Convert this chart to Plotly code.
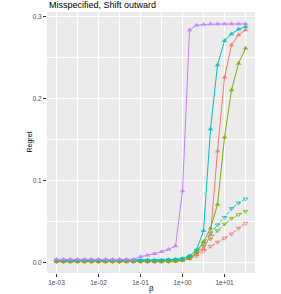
import numpy as np
import plotly.graph_objects as go

# beta grid: 28 log-spaced values (1/6 decade) from 1e-3 to 10^1.5
beta = [10 ** (-3 + k / 6) for k in range(28)]

base_red = [0.0012] * 15
base_green = [0.0015] * 15
base_cyan = [0.003] * 15

red_solid = base_red + [0.0013, 0.0015, 0.002, 0.003, 0.005, 0.010, 0.017, 0.034,
                        0.136, 0.226, 0.2655, 0.2777, 0.2838]
green_solid = base_green + [0.0015, 0.0017, 0.002, 0.003, 0.005, 0.012, 0.0256, 0.042,
                            0.071, 0.153, 0.2106, 0.243, 0.2615]
cyan_solid = base_cyan + [0.003, 0.0035, 0.004, 0.005, 0.008, 0.0155, 0.039, 0.163,
                          0.2411, 0.2707, 0.2789, 0.2846, 0.2878]
purple_solid = [0.004] * 12 + [0.0073, 0.009, 0.011, 0.0134, 0.016, 0.0204, 0.0874,
                               0.2838, 0.2895, 0.2905, 0.291, 0.291, 0.291, 0.291,
                               0.291, 0.2912]

red_dashed = base_red + [0.0013, 0.0015, 0.002, 0.003, 0.005, 0.008, 0.014, 0.020,
                         0.0249, 0.0298, 0.035, 0.042, 0.048]
green_dashed = base_green + [0.0015, 0.0017, 0.002, 0.003, 0.006, 0.012, 0.020, 0.029,
                             0.039, 0.047, 0.054, 0.0585, 0.0625]
cyan_dashed = base_cyan + [0.003, 0.0035, 0.004, 0.005, 0.008, 0.015, 0.024, 0.036,
                           0.046, 0.055, 0.066, 0.0728, 0.0777]

x_tick_vals = [1e-3, 1e-2, 1e-1, 1e0, 1e1]
x_tick_text = ["1e-03", "1e-02", "1e-01", "1e+00", "1e+01"]
y_tick_vals = [0.0, 0.1, 0.2, 0.3]
y_tick_text = ["0.0", "0.1", "0.2", "0.3"]

RED, GREEN, CYAN, PURPLE = "#F8766D", "#7CAE00", "#00BFC4", "#C77CFF"

fig = go.Figure()

dashed = [(red_dashed, RED), (green_dashed, GREEN), (cyan_dashed, CYAN)]
solid = [(red_solid, RED), (green_solid, GREEN), (cyan_solid, CYAN), (purple_solid, PURPLE)]

for vals, col in dashed:
    fig.add_trace(go.Scatter(
        x=beta, y=vals, mode="lines+markers", showlegend=False,
        line=dict(color=col, width=1, dash="3px,2px"),
        marker=dict(symbol="triangle-down-open", size=4, color=col, opacity=0.8,
                    line=dict(width=1, color=col)),
    ))
for vals, col in solid:
    fig.add_trace(go.Scatter(
        x=beta, y=vals, mode="lines+markers", showlegend=False,
        line=dict(color=col, width=1),
        marker=dict(symbol="triangle-up", size=5, color=col, opacity=0.85,
                    line=dict(width=0)),
    ))

fig.update_layout(
    width=281, height=294,
    margin=dict(l=47, r=26, t=12, b=21, autoexpand=False),
    paper_bgcolor="white", plot_bgcolor="#EBEBEB",
    font=dict(family="Liberation Sans, Arial, sans-serif", color="#4D4D4D", size=6.5),
    hovermode=False,
)
fig.update_xaxes(
    type="log", range=[-3.225, 1.725],
    tickvals=x_tick_vals, ticktext=x_tick_text,
    showgrid=True, gridcolor="white", gridwidth=1,
    minor=dict(tickvals=[10 ** -2.5, 10 ** -1.5, 10 ** -0.5, 10 ** 0.5, 10 ** 1.5],
               showgrid=True, gridcolor="white", gridwidth=0.5, ticks=""),
    ticks="outside", ticklen=3, tickcolor="#333333", tickwidth=1,
    tickfont=dict(size=6.5, color="#4D4D4D"),
    zeroline=False, showline=False,
)
fig.update_yaxes(
    range=[-0.0126, 0.3057],
    tickvals=y_tick_vals, ticktext=y_tick_text,
    showgrid=True, gridcolor="white", gridwidth=1,
    minor=dict(tickvals=[0.05, 0.15, 0.25], showgrid=True, gridcolor="white",
               gridwidth=0.5, ticks=""),
    ticks="outside", ticklen=3, tickcolor="#333333", tickwidth=1,
    tickfont=dict(size=6.5, color="#4D4D4D"),
    zeroline=False, showline=False,
)

fig.add_annotation(text="Misspecified, Shift outward", xref="paper", yref="paper",
                   x=0, y=1.027, xanchor="left", yanchor="middle", showarrow=False,
                   font=dict(size=9, color="black"))
fig.add_annotation(text="Regret", xref="paper", yref="paper",
                   x=-0.0865, y=0.5, xanchor="center", yanchor="middle", showarrow=False,
                   textangle=-90, font=dict(size=7, color="black"))
fig.add_annotation(text="β", xref="paper", yref="paper",
                   x=0.5, y=-0.0575, xanchor="center", yanchor="middle", showarrow=False,
                   font=dict(size=8, color="black"))

fig.write_html("out.html", config={"displayModeBar": False},
               post_script="document.body.style.margin='0';")
